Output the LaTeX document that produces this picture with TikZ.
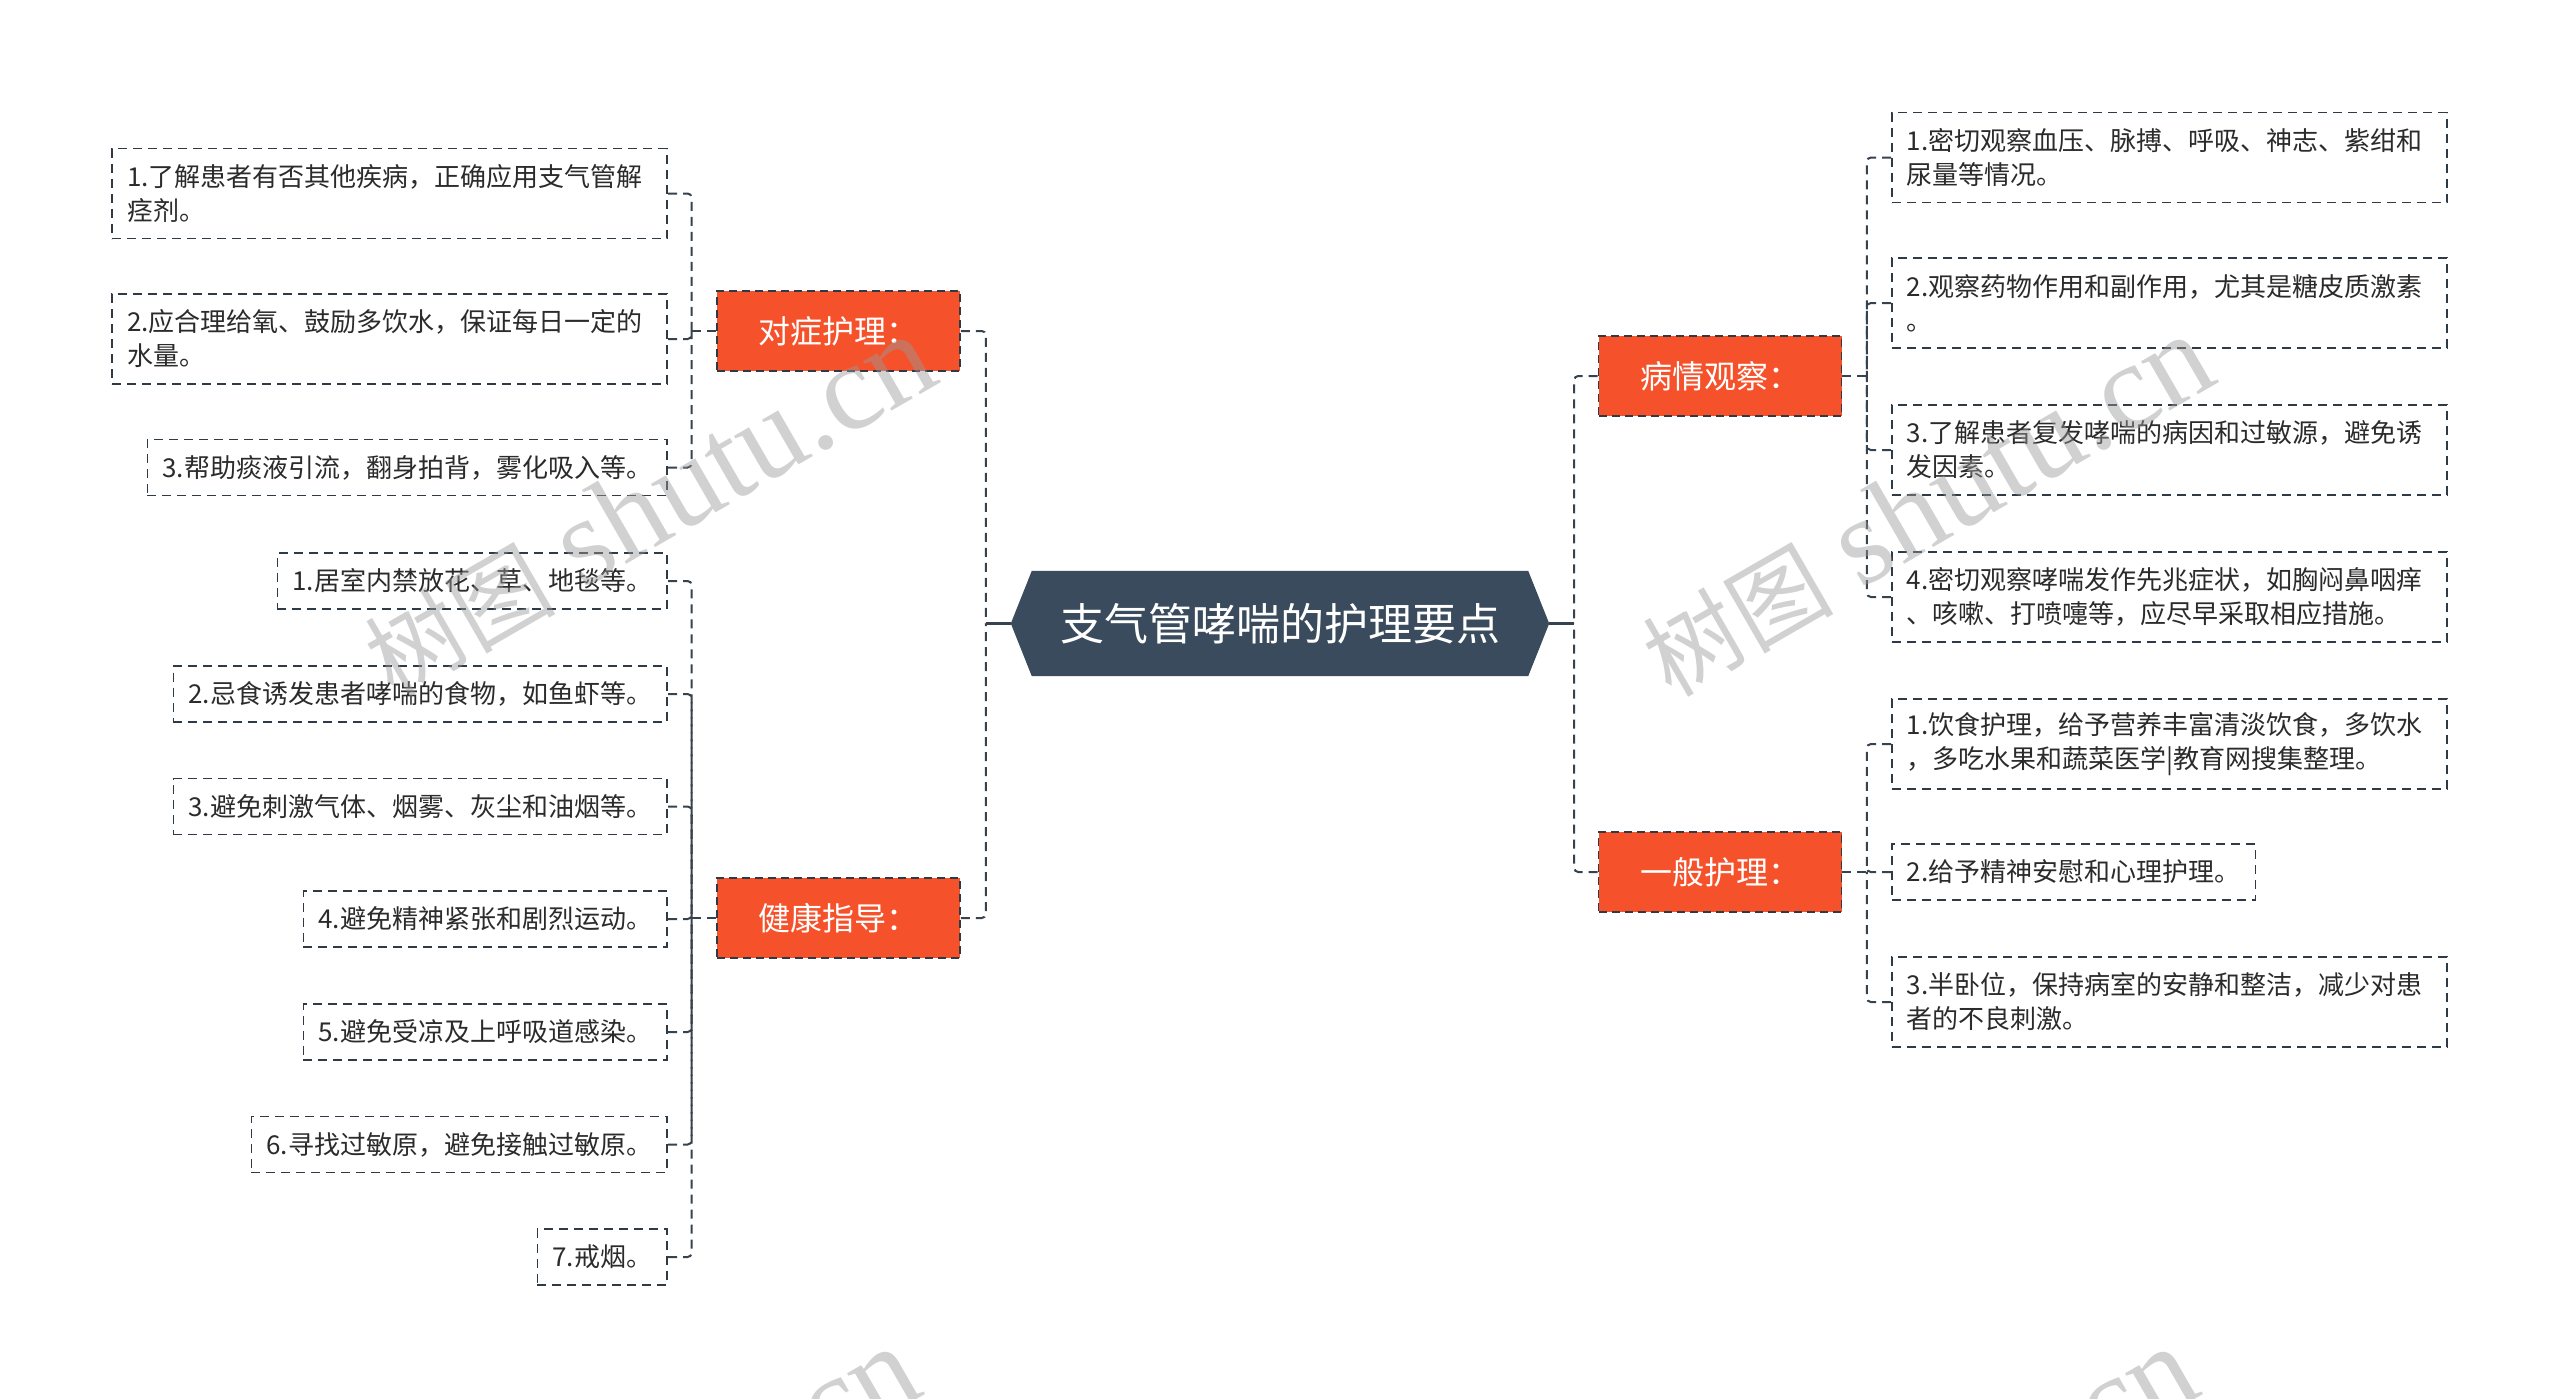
\documentclass[tikz,border=0pt]{standalone}
\usepackage{fontspec}
\setmainfont{Noto Sans CJK SC}
\newfontfamily\wmlatin{Liberation Serif}
\usetikzlibrary{calc,backgrounds}
\definecolor{orangec}{HTML}{F5522C}
\definecolor{borderc}{HTML}{2E3A46}
\definecolor{linec}{HTML}{36424E}
\definecolor{centc}{HTML}{394B5C}
\definecolor{textc}{HTML}{2B2B2B}
\definecolor{wmc}{HTML}{9A9A9A}
\begin{document}
\begin{tikzpicture}[x=1pt,y=-1pt,
  conn/.style={draw=linec, line width=2pt, dash pattern=on 9pt off 6pt, rounded corners=4pt},
  solidconn/.style={draw=linec, line width=2.5pt},
  topic/.style={rectangle, fill=orangec, draw=borderc, line width=1.8pt, dash pattern=on 8pt off 5pt,
    minimum width=243pt, minimum height=80pt, text=white, font=\fontsize{32}{38}\selectfont, inner sep=0pt},
  leaf/.style={rectangle, fill=white, draw=borderc, line width=1.8pt, dash pattern=on 9pt off 6pt,
    text=textc, font=\fontsize{26}{34}\selectfont, inner xsep=15pt, inner ysep=6pt, minimum height=56pt},
  leaftwo/.style={leaf, text width=525pt, align=left, minimum height=90pt},
  wm/.style={text=wmc, text opacity=0.45, inner sep=0pt, rotate=30}
]
\useasboundingbox (0,0) rectangle (2560,1398);

% central node
\node[font=\fontsize{44}{52}\selectfont, text=white, minimum width=496pt, minimum height=105pt, inner sep=0pt] (c) at (1280,623.5) {支气管哮喘的护理要点};
\coordinate (cl) at ([xshift=-21pt]c.west);
\coordinate (cr) at ([xshift=21pt]c.east);
\begin{scope}[on background layer]
\fill[white] (0,0) rectangle (2560,1398);
\fill[centc] (cl) -- (c.north west) -- (c.north east) -- (cr) -- (c.south east) -- (c.south west) -- cycle;
\end{scope}

% main topics
\node[topic] (dz) at (838.5,331) {对症护理：};
\node[topic] (jk) at (838.5,918) {健康指导：};
\node[topic] (bq) at (1720,376) {病情观察：};
\node[topic] (yb) at (1720,872) {一般护理：};

% leaves left: 对症护理
\node[leaftwo, anchor=east] (d1) at (668,193.5) {1.了解患者有否其他疾病，正确应用支气管解\\痉剂。};
\node[leaftwo, anchor=east] (d2) at (668,339) {2.应合理给氧、鼓励多饮水，保证每日一定的\\水量。};
\node[leaf, anchor=east] (d3) at (668,467.5) {3.帮助痰液引流，翻身拍背，雾化吸入等。};

% leaves left: 健康指导
\node[leaf, anchor=east] (j1) at (668,581) {1.居室内禁放花、草、地毯等。};
\node[leaf, anchor=east] (j2) at (668,694) {2.忌食诱发患者哮喘的食物，如鱼虾等。};
\node[leaf, anchor=east] (j3) at (668,806.5) {3.避免刺激气体、烟雾、灰尘和油烟等。};
\node[leaf, anchor=east] (j4) at (668,919) {4.避免精神紧张和剧烈运动。};
\node[leaf, anchor=east] (j5) at (668,1032) {5.避免受凉及上呼吸道感染。};
\node[leaf, anchor=east] (j6) at (668,1144.5) {6.寻找过敏原，避免接触过敏原。};
\node[leaf, anchor=east] (j7) at (668,1257) {7.戒烟。};

% leaves right: 病情观察
\node[leaftwo, anchor=west] (b1) at (1891,157.5) {1.密切观察血压、脉搏、呼吸、神志、紫绀和\\尿量等情况。};
\node[leaftwo, anchor=west] (b2) at (1891,303) {2.观察药物作用和副作用，尤其是糖皮质激素\\。};
\node[leaftwo, anchor=west] (b3) at (1891,450) {3.了解患者复发哮喘的病因和过敏源，避免诱\\发因素。};
\node[leaftwo, anchor=west] (b4) at (1891,597) {4.密切观察哮喘发作先兆症状，如胸闷鼻咽痒\\、咳嗽、打喷嚏等，应尽早采取相应措施。};

% leaves right: 一般护理
\node[leaftwo, anchor=west] (y1) at (1891,744) {1.饮食护理，给予营养丰富清淡饮食，多饮水\\，多吃水果和蔬菜医学|教育网搜集整理。};
\node[leaf, anchor=west] (y2) at (1891,872) {2.给予精神安慰和心理护理。};
\node[leaftwo, anchor=west] (y3) at (1891,1002) {3.半卧位，保持病室的安静和整洁，减少对患\\者的不良刺激。};

% connectors centre -> topics
\draw[solidconn] (cl) -- ++(-25,0) coordinate (lt);
\draw[solidconn] (cr) -- ++(25,0) coordinate (rt);
\draw[conn] (dz.east) -| (lt);
\draw[conn] (jk.east) -| (lt);
\draw[conn] (bq.west) -| (rt);
\draw[conn] (yb.west) -| (rt);

% connectors topics -> leaves
\coordinate (dzt) at ([xshift=-24.5pt]dz.west);
\coordinate (jkt) at ([xshift=-24.5pt]jk.west);
\coordinate (bqt) at ([xshift=24.5pt]bq.east);
\coordinate (ybt) at ([xshift=24.5pt]yb.east);
\draw[conn] (dz.west) -- (dzt);
\draw[conn] (jk.west) -- (jkt);
\draw[conn] (bq.east) -- (bqt);
\draw[conn] (yb.east) -- (ybt);
\foreach \n in {d1,d2,d3} {\draw[conn] (\n.east) -| (dzt);}
\foreach \n in {j1,j2,j3,j4,j5,j6,j7} {\draw[conn] (\n.east) -| (jkt);}
\foreach \n in {b1,b2,b3,b4} {\draw[conn] (\n.west) -| (bqt);}
\foreach \n in {y1,y2,y3} {\draw[conn] (\n.west) -| (ybt);}

% watermarks
\begin{scope}
\clip (0,0) rectangle (2560,1398);
\node[wm] (w1) at (649,506) {{\fontsize{95}{100}\selectfont 树图}\hspace{28pt}{\wmlatin\fontsize{124}{130}\selectfont shutu.cn}};
\node[wm] (w2) at (1927,506) {{\fontsize{95}{100}\selectfont 树图}\hspace{28pt}{\wmlatin\fontsize{124}{130}\selectfont shutu.cn}};
\node[wm] (w3) at (633,1518) {{\fontsize{95}{100}\selectfont 树图}\hspace{28pt}{\wmlatin\fontsize{124}{130}\selectfont shutu.cn}};
\node[wm] (w4) at (1911,1518) {{\fontsize{95}{100}\selectfont 树图}\hspace{28pt}{\wmlatin\fontsize{124}{130}\selectfont shutu.cn}};
\end{scope}
\end{tikzpicture}
\end{document}
